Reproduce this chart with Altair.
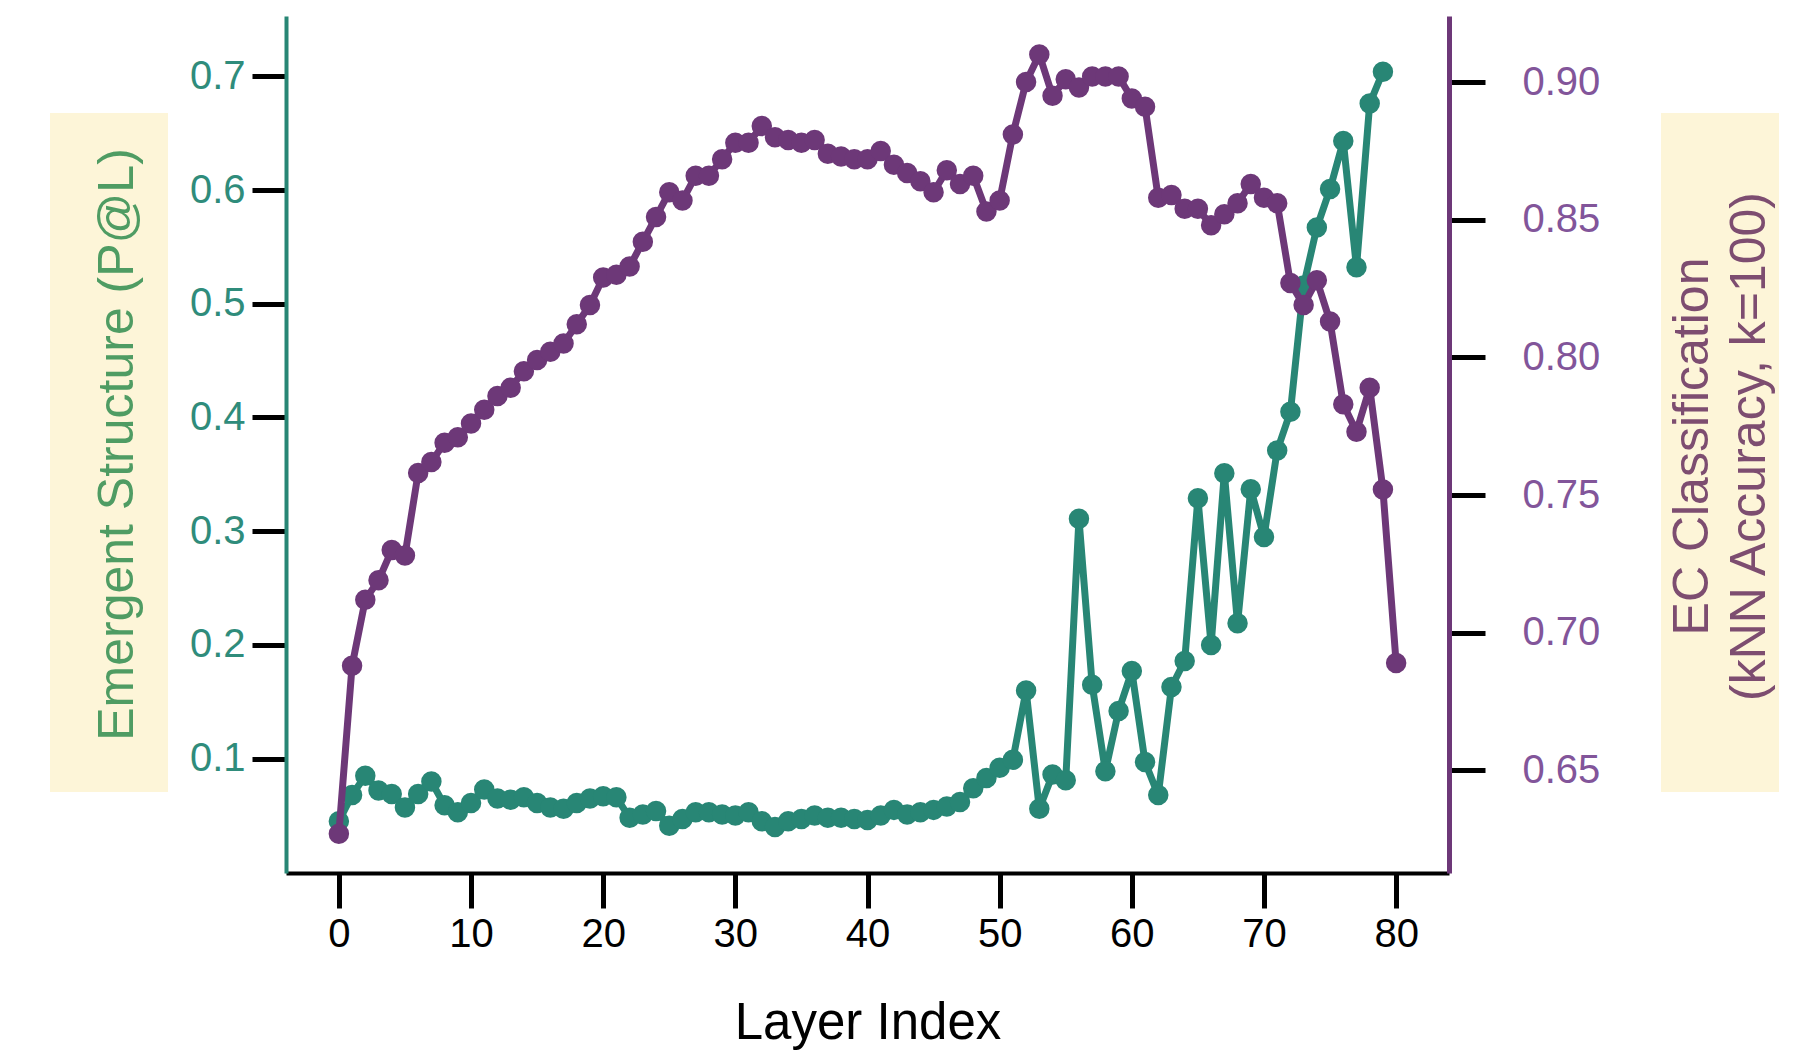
import altair as alt
import pandas as pd

# ---- data ----
emergent = [0.045, 0.068, 0.085, 0.072, 0.069, 0.057, 0.069, 0.080, 0.059, 0.053,
            0.061, 0.073, 0.065, 0.064, 0.066, 0.061, 0.057, 0.056, 0.061, 0.065,
            0.067, 0.066, 0.048, 0.051, 0.054, 0.041, 0.047, 0.053, 0.053, 0.051,
            0.050, 0.053, 0.045, 0.040, 0.045, 0.047, 0.050, 0.048, 0.048, 0.047,
            0.046, 0.050, 0.055, 0.051, 0.053, 0.055, 0.058, 0.062, 0.074, 0.083,
            0.092, 0.099, 0.160, 0.056, 0.086, 0.081, 0.311, 0.165, 0.089, 0.142,
            0.177, 0.097, 0.068, 0.163, 0.186, 0.329, 0.200, 0.351, 0.219, 0.337,
            0.295, 0.371, 0.405, 0.516, 0.567, 0.601, 0.643, 0.532, 0.676, 0.704]
ec_acc = [0.627, 0.688, 0.712, 0.719, 0.730, 0.728, 0.758, 0.762, 0.769, 0.771,
          0.776, 0.781, 0.786, 0.789, 0.795, 0.799, 0.802, 0.805, 0.812, 0.819,
          0.829, 0.830, 0.833, 0.842, 0.851, 0.860, 0.857, 0.866, 0.866, 0.872,
          0.878, 0.878, 0.884, 0.880, 0.879, 0.878, 0.879, 0.874, 0.873, 0.872,
          0.872, 0.875, 0.870, 0.867, 0.864, 0.860, 0.868, 0.863, 0.866, 0.853,
          0.857, 0.881, 0.900, 0.910, 0.895, 0.901, 0.898, 0.902, 0.902, 0.902,
          0.894, 0.891, 0.858, 0.859, 0.854, 0.854, 0.848, 0.852, 0.856, 0.863,
          0.858, 0.856, 0.827, 0.819, 0.828, 0.813, 0.783, 0.773, 0.789, 0.752,
          0.689]
x_ticks = [0, 10, 20, 30, 40, 50, 60, 70, 80]
left_ticks = [0.1, 0.2, 0.3, 0.4, 0.5, 0.6, 0.7]
right_ticks = [0.65, 0.70, 0.75, 0.80, 0.85, 0.90]

x_title = "Layer Index"
left_title = "Emergent Structure (P@L)"
right_title = ["EC Classification", "(kNN Accuracy, k=100)"]

df_g = pd.DataFrame({"layer": list(range(len(emergent))), "val": emergent})
df_p = pd.DataFrame({"layer": list(range(len(ec_acc))), "val": ec_acc})
dummy = pd.DataFrame({"a": [0]})

GREEN = "#288675"
PURPLE = "#6d3878"
FONT = "Liberation Sans"

x_scale = alt.Scale(domain=[-4, 84], nice=False, zero=False)
x_axis = alt.Axis(values=x_ticks, title=x_title, grid=False,
                  domainColor="black", domainWidth=4,
                  tickColor="black", tickWidth=5, tickSize=35,
                  labelFont=FONT, labelFontSize=40, labelColor="black", labelPadding=6,
                  titleFont=FONT, titleFontSize=51, titleFontWeight="normal",
                  titleColor="black", titleY=165, titleBaseline="alphabetic",
                  zindex=1)

left_axis = alt.Axis(values=left_ticks, format=".1f", orient="left", grid=False,
                     title=left_title,
                     domainColor=GREEN, domainWidth=4,
                     tickColor="black", tickWidth=5, tickSize=34,
                     labelFont=FONT, labelFontSize=40, labelColor="#2f8c7b", labelPadding=7,
                     titleFont=FONT, titleFontSize=50, titleFontWeight="normal",
                     titleColor="#4f9c63", titleAngle=270, titleAlign="center",
                     titleBaseline="alphabetic", titleX=-154, titleY=428,
                     zindex=1)

right_axis = alt.Axis(values=right_ticks, format=".2f", orient="right", grid=False,
                      title=right_title,
                      domainColor=PURPLE, domainWidth=5,
                      tickColor="black", tickWidth=5, tickSize=36,
                      labelFont=FONT, labelFontSize=40, labelColor="#82559a", labelPadding=37,
                      titleFont=FONT, titleFontSize=50, titleFontWeight="normal",
                      titleColor="#7d4d70", titleAngle=270, titleAlign="center",
                      titleBaseline="alphabetic", titleX=258, titleY=430,
                      titleLineHeight=57, zindex=1)

box_left = alt.Chart(dummy).mark_rect(color="#fdf5d8").encode(
    x=alt.value(-236), x2=alt.value(-118), y=alt.value(97), y2=alt.value(776))
box_right = alt.Chart(dummy).mark_rect(color="#fdf5d8").encode(
    x=alt.value(1375), x2=alt.value(1493), y=alt.value(97), y2=alt.value(776))

green = alt.Chart(df_g).mark_line(
    color=GREEN, strokeWidth=7,
    point=alt.OverlayMarkDef(filled=True, size=420, color=GREEN, opacity=1)
).encode(
    x=alt.X("layer:Q", scale=x_scale, axis=x_axis),
    y=alt.Y("val:Q", scale=alt.Scale(domain=[-0.0005, 0.753], nice=False, zero=False),
            axis=left_axis),
)

purple = alt.Chart(df_p).mark_line(
    color=PURPLE, strokeWidth=7,
    point=alt.OverlayMarkDef(filled=True, size=420, color=PURPLE, opacity=1)
).encode(
    x=alt.X("layer:Q", scale=x_scale, axis=x_axis),
    y=alt.Y("val:Q", scale=alt.Scale(domain=[0.6127, 0.924], nice=False, zero=False),
            axis=right_axis),
)

lines = alt.layer(green, purple).resolve_scale(y="independent")

chart = alt.layer(box_left, box_right, lines).properties(
    width=1163, height=857,
    autosize=alt.AutoSizeParams(type="none"),
    padding={"left": 286, "top": 16, "right": 359, "bottom": 180},
    background="white",
).configure_view(stroke=None)

chart.save("out.html", embed_options={"renderer": "svg", "actions": False})
